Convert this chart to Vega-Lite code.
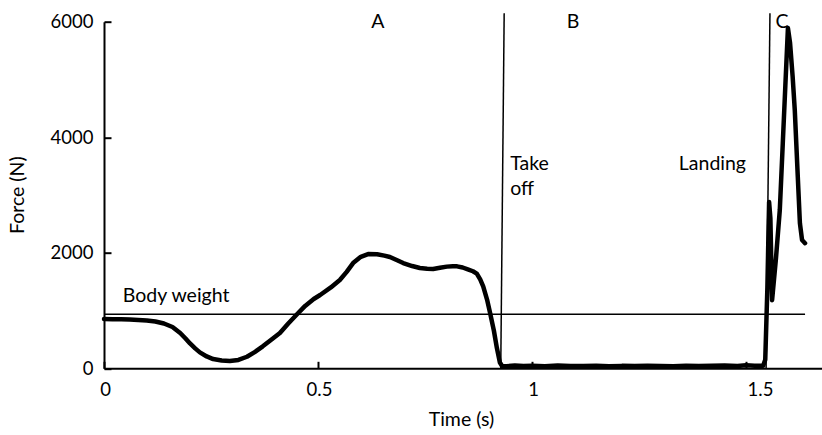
{
  "$schema": "https://vega.github.io/schema/vega-lite/v6.json",
  "width": 718,
  "height": 346.6,
  "autosize": "none",
  "padding": {"left": 104, "top": 21.7, "right": 0, "bottom": 66.7},
  "background": "white",
  "config": {
    "view": {"stroke": null},
    "font": "Lato",
    "axis": {
      "domainColor": "black", "domainWidth": 2,
      "tickColor": "black", "tickWidth": 2, "tickSize": -7,
      "labelColor": "black", "labelFontSize": 18.5, "labelFont": "Lato",
      "titleFont": "Lato", "titleFontSize": 19.5, "titleFontWeight": "normal", "titleColor": "black",
      "grid": false
    }
  },
  "datasets": {
    "force": [
      {"t": 0.000, "F": 853}, {"t": 0.02, "F": 850}, {"t": 0.04, "F": 848}, {"t": 0.06, "F": 845},
      {"t": 0.08, "F": 838}, {"t": 0.10, "F": 828}, {"t": 0.12, "F": 810}, {"t": 0.14, "F": 775},
      {"t": 0.16, "F": 715}, {"t": 0.178, "F": 611}, {"t": 0.19, "F": 520}, {"t": 0.201, "F": 430},
      {"t": 0.213, "F": 345}, {"t": 0.224, "F": 275}, {"t": 0.24, "F": 205}, {"t": 0.255, "F": 160},
      {"t": 0.275, "F": 135}, {"t": 0.294, "F": 128}, {"t": 0.314, "F": 145}, {"t": 0.334, "F": 200},
      {"t": 0.352, "F": 280}, {"t": 0.371, "F": 380}, {"t": 0.39, "F": 490}, {"t": 0.411, "F": 610},
      {"t": 0.43, "F": 770}, {"t": 0.451, "F": 935}, {"t": 0.47, "F": 1080}, {"t": 0.49, "F": 1200},
      {"t": 0.505, "F": 1269}, {"t": 0.53, "F": 1400}, {"t": 0.551, "F": 1528}, {"t": 0.567, "F": 1670},
      {"t": 0.582, "F": 1822}, {"t": 0.60, "F": 1930}, {"t": 0.617, "F": 1978}, {"t": 0.638, "F": 1975},
      {"t": 0.655, "F": 1950}, {"t": 0.668, "F": 1927}, {"t": 0.685, "F": 1870}, {"t": 0.699, "F": 1822},
      {"t": 0.72, "F": 1770}, {"t": 0.738, "F": 1736}, {"t": 0.755, "F": 1722}, {"t": 0.769, "F": 1719},
      {"t": 0.785, "F": 1740}, {"t": 0.801, "F": 1760}, {"t": 0.815, "F": 1768}, {"t": 0.825, "F": 1765},
      {"t": 0.838, "F": 1745}, {"t": 0.850, "F": 1713}, {"t": 0.862, "F": 1680}, {"t": 0.871, "F": 1640},
      {"t": 0.879, "F": 1540}, {"t": 0.886, "F": 1420}, {"t": 0.895, "F": 1190}, {"t": 0.902, "F": 960},
      {"t": 0.911, "F": 650}, {"t": 0.918, "F": 350}, {"t": 0.925, "F": 100}, {"t": 0.930, "F": 40},
      {"t": 0.94, "F": 35}, {"t": 0.96, "F": 50}, {"t": 0.98, "F": 40}, {"t": 1.0, "F": 45},
      {"t": 1.03, "F": 35}, {"t": 1.06, "F": 48}, {"t": 1.09, "F": 40}, {"t": 1.12, "F": 38},
      {"t": 1.15, "F": 45}, {"t": 1.18, "F": 35}, {"t": 1.21, "F": 42}, {"t": 1.24, "F": 38},
      {"t": 1.27, "F": 45}, {"t": 1.30, "F": 40}, {"t": 1.33, "F": 36}, {"t": 1.36, "F": 44},
      {"t": 1.39, "F": 38}, {"t": 1.42, "F": 42}, {"t": 1.45, "F": 50}, {"t": 1.48, "F": 40},
      {"t": 1.50, "F": 52}, {"t": 1.52, "F": 45}, {"t": 1.540, "F": 45}, {"t": 1.545, "F": 150},
      {"t": 1.550, "F": 1400}, {"t": 1.554, "F": 2880}, {"t": 1.557, "F": 2600}, {"t": 1.561, "F": 1180},
      {"t": 1.570, "F": 1900}, {"t": 1.579, "F": 2740}, {"t": 1.586, "F": 3900}, {"t": 1.592, "F": 4900},
      {"t": 1.598, "F": 5890}, {"t": 1.603, "F": 5630}, {"t": 1.609, "F": 5050}, {"t": 1.614, "F": 4470},
      {"t": 1.621, "F": 3320}, {"t": 1.626, "F": 2510}, {"t": 1.631, "F": 2220}, {"t": 1.638, "F": 2165}
    ],
    "refs": [
      {"name": "takeoff", "t": 0.927, "F": 0, "t2": 0.935, "F2": 6145},
      {"name": "landing", "t": 1.547, "F": 0, "t2": 1.556, "F2": 6145},
      {"name": "bodyweight", "t": 0, "F": 935, "t2": 1.638, "F2": 935}
    ],
    "centerLabels": [
      {"t": 0.640, "F": 5886, "label": "A"},
      {"t": 1.096, "F": 5886, "label": "B"},
      {"t": 1.584, "F": 5886, "label": "C"}
    ],
    "leftLabels": [
      {"t": 0.949, "F": 3433, "label": "Take"},
      {"t": 0.949, "F": 3000, "label": "off"},
      {"t": 1.343, "F": 3433, "label": "Landing"},
      {"t": 0.044, "F": 1153, "label": "Body weight"}
    ]
  },
  "layer": [
    {
      "data": {"name": "force"},
      "mark": {"type": "line", "color": "black", "strokeWidth": 4.5, "strokeJoin": "round", "strokeCap": "round"},
      "encoding": {
        "x": {"field": "t", "type": "quantitative", "title": "Time (s)",
          "scale": {"domain": [0, 1.6776], "nice": false, "zero": false},
          "axis": {"values": [0, 0.5, 1, 1.5], "format": "~g", "labelPadding": 19, "labelFlush": false,
            "labelOffset": {"condition": {"test": "datum.value == 1.5", "value": 14}, "value": 1},
            "titleY": 57, "titleX": 357, "titleBaseline": "alphabetic"}},
        "y": {"field": "F", "type": "quantitative", "title": "Force (N)",
          "scale": {"domain": [0, 6000], "nice": false},
          "axis": {"values": [0, 2000, 4000, 6000], "format": "d", "labelPadding": 18,
            "titleX": -81, "titleY": 173, "titleAngle": -90, "titleBaseline": "alphabetic", "titleAlign": "center"}}
      }
    },
    {
      "data": {"name": "refs"},
      "mark": {"type": "rule", "color": "black", "strokeWidth": 1.5},
      "encoding": {
        "x": {"field": "t", "type": "quantitative", "title": "Time (s)"},
        "y": {"field": "F", "type": "quantitative", "title": "Force (N)"},
        "x2": {"field": "t2"},
        "y2": {"field": "F2"}
      }
    },
    {
      "data": {"name": "centerLabels"},
      "mark": {"type": "text", "align": "center", "baseline": "alphabetic", "fontSize": 19.5, "font": "Lato", "color": "black"},
      "encoding": {
        "x": {"field": "t", "type": "quantitative", "title": "Time (s)"},
        "y": {"field": "F", "type": "quantitative", "title": "Force (N)"},
        "text": {"field": "label"}
      }
    },
    {
      "data": {"name": "leftLabels"},
      "mark": {"type": "text", "align": "left", "baseline": "alphabetic", "fontSize": 19.5, "font": "Lato", "color": "black"},
      "encoding": {
        "x": {"field": "t", "type": "quantitative", "title": "Time (s)"},
        "y": {"field": "F", "type": "quantitative", "title": "Force (N)"},
        "text": {"field": "label"}
      }
    }
  ]
}
